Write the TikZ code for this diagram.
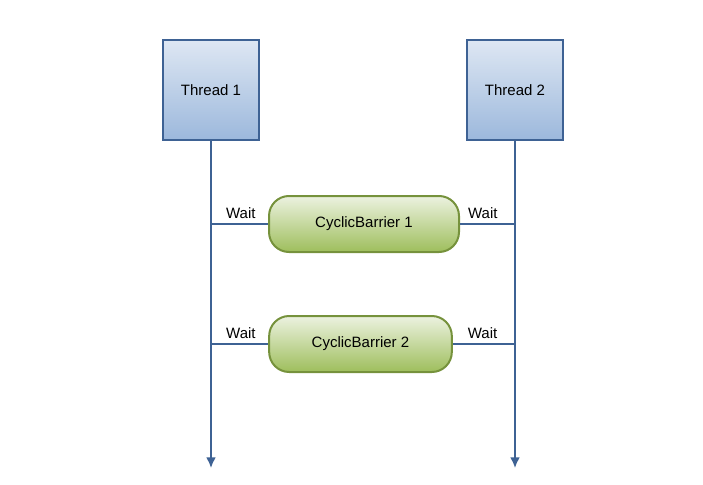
\documentclass[tikz,border=0pt]{standalone}
\usepackage{fontspec}
\setmainfont{Liberation Sans}
\usetikzlibrary{arrows, arrows.meta, positioning}
\definecolor{threadblue}{RGB}{62, 98, 148}
\definecolor{threadtop}{RGB}{222, 231, 243}
\definecolor{threadbot}{RGB}{156, 184, 220}
\definecolor{barrierline}{RGB}{118, 146, 60}
\definecolor{barriertop}{RGB}{236, 242, 224}
\definecolor{barrierbot}{RGB}{158, 190, 92}

\begin{document}
\begin{tikzpicture}[x=0.75pt, y=-0.75pt, font=\fontsize{11.25}{13}\selectfont]
            \tikzstyle{thread} = [rectangle, draw=threadblue, line width=1.5pt, top color=threadtop, bottom color=threadbot, minimum width=72pt, minimum height=75pt]
            \tikzstyle{barrier} = [rectangle, rounded corners=15pt, draw=barrierline, line width=1.5pt, top color=barriertop, bottom color=barrierbot, minimum height=42pt]
            \tikzstyle{life} = [line width=1.5pt, draw=threadblue, fill=threadblue]
            \tikzstyle{link} = [line width=1.5pt, draw=threadblue]
            \tikzstyle{wait} = [above, yshift=0pt, text=black]
            
            \useasboundingbox (0,0) rectangle (703,485);
            
            \node[thread] (t1) at (211,90) {Thread 1};
            \node[thread] (t2) at (515,90) {Thread 2};
            \coordinate (e1) at (211,468);
            \coordinate (e2) at (515,468);
            \node[barrier, minimum width=142.5pt] (b1) at (364,224) {CyclicBarrier 1};
            \node[barrier, minimum width=137pt] (b2) at (360.5,344) {CyclicBarrier 2};
            \coordinate (l1) at (211,224);
            \coordinate (r1) at (515,224);
            \coordinate (l2) at (211,344);
            \coordinate (r2) at (515,344);
            
            \draw[life, -{Latex[length=8pt, width=7.5pt]}] (t1) -- (e1);
            \draw[life, -{Latex[length=8pt, width=7.5pt]}] (t2) -- (e2);
            \draw[link] (l1) -- node[wait, xshift=1pt] {Wait} (b1);
            \draw[link] (b1) -- node[wait, xshift=-3.5pt] {Wait} (r1);
            \draw[link] (l2) -- node[wait, xshift=1pt] {Wait} (b2);
            \draw[link] (b2) -- node[wait, xshift=-1pt] {Wait} (r2);
        \end{tikzpicture}
\end{document}
